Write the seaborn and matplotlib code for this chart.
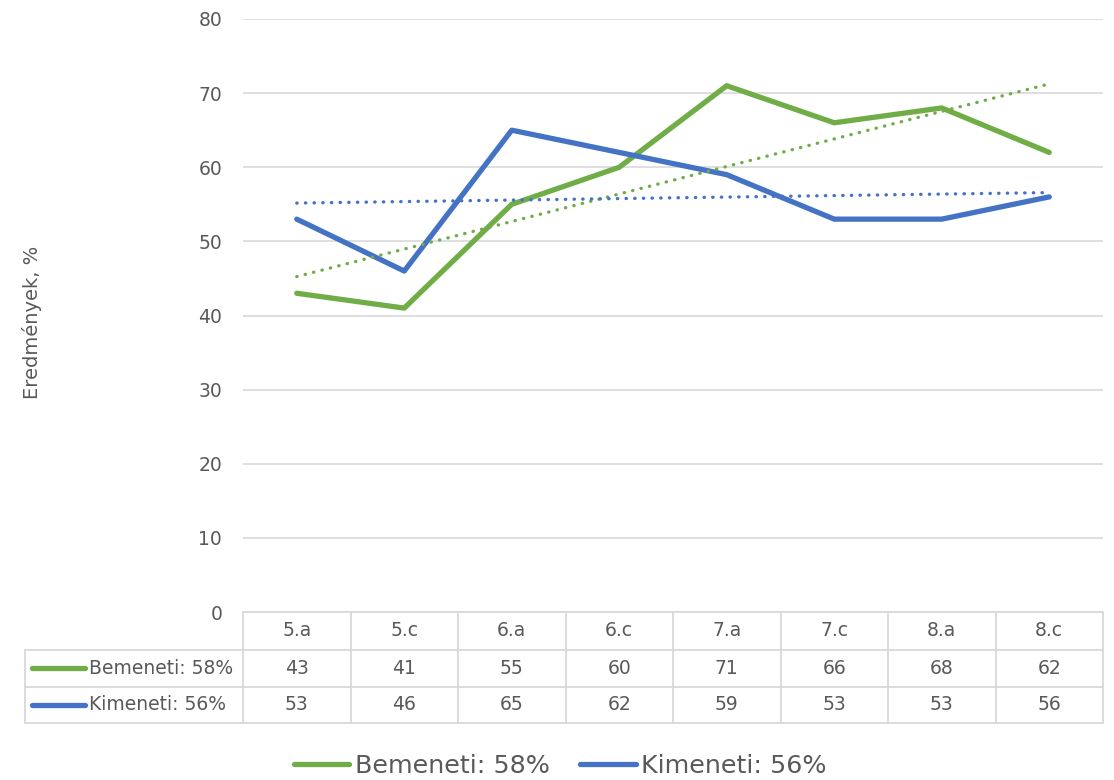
import matplotlib
import matplotlib.pyplot as plt
import numpy as np
import pandas as pd
import seaborn as sns
from matplotlib.lines import Line2D

matplotlib.use("Agg")

CLASSES = ["5.a", "5.c", "6.a", "6.c", "7.a", "7.c", "8.a", "8.c"]
BEMENETI = [43, 41, 55, 60, 71, 66, 68, 62]
KIMENETI = [53, 46, 65, 62, 59, 53, 53, 56]
SERIES_NAMES = ["Bemeneti: 58%", "Kimeneti: 56%"]
Y_TICKS = [0, 10, 20, 30, 40, 50, 60, 70, 80]

GREEN = "#70AD47"
BLUE = "#4472C4"
GRID = "#D9D9D9"
TEXT = "#595959"
W, H = 1114, 780


def fx(px):
    return px / W


def fy(py):
    return 1 - py / H


df = pd.DataFrame({
    "pos": list(range(len(CLASSES))) * 2,
    "osztaly": CLASSES * 2,
    "ertek": BEMENETI + KIMENETI,
    "sorozat": [SERIES_NAMES[0]] * len(CLASSES) + [SERIES_NAMES[1]] * len(CLASSES),
})
palette = {SERIES_NAMES[0]: GREEN, SERIES_NAMES[1]: BLUE}

sns.set_theme(style="white")
plt.rcParams["font.family"] = ["DejaVu Sans"]

fig = plt.figure(figsize=(W / 100, H / 100), dpi=100)
ax = fig.add_axes([fx(243), fy(612), fx(1103) - fx(243), fy(19) - fy(612)])

sns.lineplot(data=df, x="pos", y="ertek", hue="sorozat", palette=palette,
             linewidth=3.8, ax=ax, solid_capstyle="round", solid_joinstyle="round")
handles, labels = ax.get_legend_handles_labels()
ax.get_legend().remove()

# linear trendlines
for name in SERIES_NAMES:
    sub = df[df["sorozat"] == name]
    sns.regplot(data=sub, x="pos", y="ertek", scatter=False, ci=None, truncate=True, ax=ax,
                line_kws={"color": palette[name], "linewidth": 2.4,
                          "linestyle": (0, (0.1, 2.5)), "dash_capstyle": "round"})

ax.set_xlim(-0.5, len(CLASSES) - 0.5)
ax.set_ylim(0, 80)
ax.set_yticks(Y_TICKS)
ax.set_xticks([])
ax.set_xlabel("")
ax.set_ylabel("")
ax.grid(axis="y", color=GRID, linewidth=1.2)
ax.set_axisbelow(True)
for s in ax.spines.values():
    s.set_visible(False)
ax.tick_params(axis="y", length=0, pad=15, labelsize=13.5, labelcolor=TEXT)

fig.text(fx(32), fy(322), "Eredmények, %", rotation=90, ha="center", va="center",
         fontsize=14, color=TEXT)

# data table
col_w = (1103 - 243) / len(CLASSES)
rows_y = [612, 650, 687, 723]
lw = 1.3
fig.add_artist(Line2D([fx(243), fx(1103)], [fy(612)] * 2, color=GRID, lw=lw, transform=fig.transFigure))
for yy in rows_y[1:]:
    fig.add_artist(Line2D([fx(25), fx(1103)], [fy(yy)] * 2, color=GRID, lw=lw, transform=fig.transFigure))
fig.add_artist(Line2D([fx(25), fx(25)], [fy(650), fy(723)], color=GRID, lw=lw, transform=fig.transFigure))
for k in range(len(CLASSES) + 1):
    xx = 243 + k * col_w
    fig.add_artist(Line2D([fx(xx)] * 2, [fy(612), fy(723)], color=GRID, lw=lw, transform=fig.transFigure))

for k, c in enumerate(CLASSES):
    cx = 243 + (k + 0.5) * col_w
    fig.text(fx(cx), fy(631), c, ha="center", va="center", fontsize=13.5, color=TEXT)
    fig.text(fx(cx), fy(668), str(BEMENETI[k]), ha="center", va="center", fontsize=13.5, color=TEXT)
    fig.text(fx(cx), fy(705), str(KIMENETI[k]), ha="center", va="center", fontsize=13.5, color=TEXT)

for name, yy in zip(SERIES_NAMES, [668, 705]):
    fig.add_artist(Line2D([fx(32), fx(85)], [fy(yy)] * 2, color=palette[name], lw=3.8,
                          solid_capstyle="round", transform=fig.transFigure))
    fig.text(fx(89), fy(yy), name, ha="left", va="center", fontsize=13.5, color=TEXT)

fig.legend(handles, labels, loc="center", bbox_to_anchor=(fx(560), fy(766)), ncol=2,
           frameon=False, fontsize=18.3, labelcolor=TEXT, handlelength=2.2,
           handletextpad=0.2, columnspacing=1.2)

fig.savefig("out.png", dpi=100)
